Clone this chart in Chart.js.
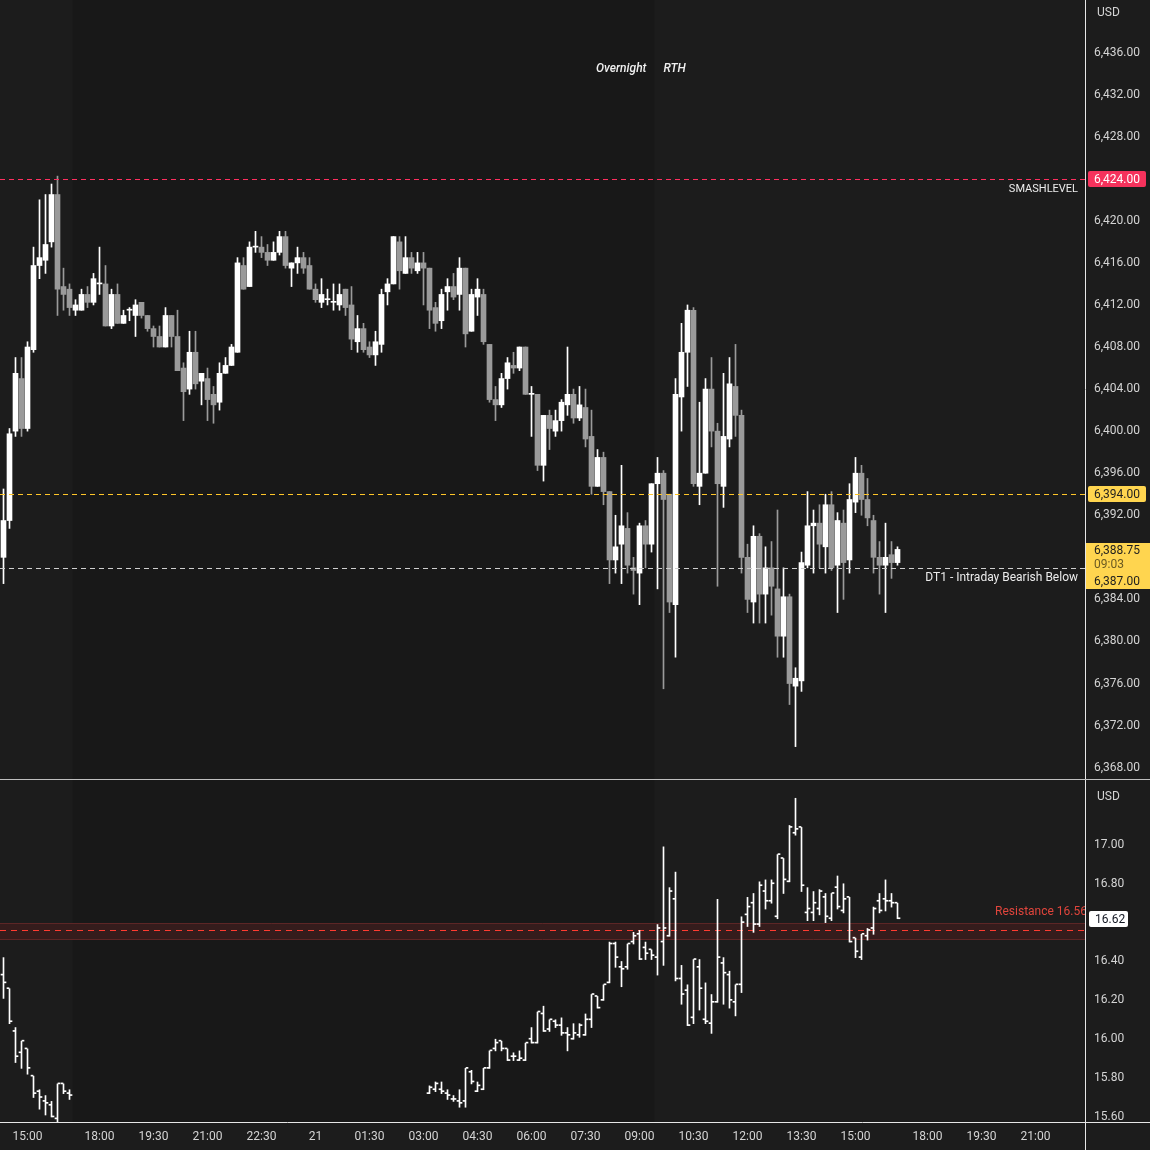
<!DOCTYPE html>
<html lang="en">
  <head>
    <meta charset="UTF-8" />
    <title>ES 10m / VIX</title>
    <style>
      html, body { margin: 0; padding: 0; background: #1c1c1c; }
      #wrap { position: relative; width: 1150px; height: 1150px; overflow: hidden; }
      #top { position: absolute; left: 0; top: 0; }
      #sep { position: absolute; left: 0; top: 779px; width: 1150px; height: 1px; background: #bfbfbf; }
      #bottom { position: absolute; left: 0; top: 780px; }
    </style>
    <script src="https://cdn.jsdelivr.net/npm/chart.js"></script>
  </head>
  <body>
    <div id="wrap">
      <canvas id="top" width="1150" height="779"></canvas>
      <div id="sep"></div>
      <canvas id="bottom" width="1150" height="370"></canvas>
    </div>
<script>
// ---- x axis (bar index, 10 minute bars) ----
const tickIdx = [4, 16, 25, 34, 43, 52, 61, 70, 79, 88, 97, 106, 115, 124, 133, 142, 154, 163, 172];
const tickText = ["15:00", "18:00", "19:30", "21:00", "22:30", "21", "01:30", "03:00", "04:30", "06:00",
                  "07:30", "09:00", "10:30", "12:00", "13:30", "15:00", "18:00", "19:30", "21:00"];
const overnight = [11.5, 108.5];   // session break (bar index)

// ---- ES candles ----
const esOpen = [
  6388.0, 6391.5, 6400.0, 6405.0, 6400.25, 6407.75, 6415.75, 6416.25, 6418.0, 6422.5,
  6413.75, 6413.5, 6411.5, 6411.5, 6413.0, 6412.25, 6414.0, 6414.0, 6410.0, 6413.0,
  6410.25, 6411.5, 6411.0, 6412.25, 6411.0, 6409.75, 6409.0, 6408.0, 6411.0, 6409.0,
  6406.0, 6404.0, 6407.5, 6404.75, 6405.0, 6403.5, 6402.75, 6405.5, 6406.25, 6407.5,
  6415.75, 6413.75, 6417.5, 6417.5, 6417.0, 6416.25, 6417.0, 6418.5, 6415.5, 6416.0,
  6416.5, 6415.75, 6413.5, 6412.25, 6412.5, 6412.25, 6412.0, 6413.5, 6412.0, 6408.5,
  6409.75, 6408.0, 6407.25, 6408.25, 6413.25, 6414.0, 6418.0, 6415.0, 6416.5, 6415.25,
  6416.0, 6415.5, 6411.75, 6410.5, 6413.25, 6413.75, 6413.0, 6415.5, 6409.5, 6412.75,
  6413.0, 6408.25, 6403.0, 6402.5, 6405.0, 6406.25, 6406.0, 6408.0, 6403.5, 6403.5,
  6396.75, 6401.5, 6400.0, 6401.0, 6402.5, 6403.5, 6401.25, 6402.25, 6399.5, 6394.75,
  6397.5, 6394.25, 6387.75, 6389.25, 6390.75, 6387.0, 6386.5, 6391.0, 6389.25, 6395.0,
  6396.0, 6394.0, 6383.5, 6403.25, 6407.5, 6411.5, 6394.75, 6396.0, 6404.0, 6400.0,
  6394.75, 6399.25, 6404.25, 6401.5, 6388.0, 6383.75, 6390.0, 6384.5, 6387.0, 6385.0,
  6380.5, 6384.25, 6375.75, 6376.25, 6387.25, 6391.0, 6391.25, 6389.0, 6393.0, 6387.25,
  6391.25, 6387.75, 6393.25, 6396.0, 6393.5, 6391.5, 6388.0, 6387.25, 6388.25, 6387.5
];
const esHigh = [
  6394.5, 6400.25, 6407.0, 6407.0, 6408.5, 6417.5, 6422.0, 6422.5, 6423.5, 6424.25,
  6415.5, 6414.0, 6412.5, 6413.5, 6413.75, 6415.0, 6417.5, 6415.75, 6413.5, 6414.0,
  6411.5, 6411.75, 6412.5, 6412.25, 6411.0, 6410.0, 6410.0, 6411.75, 6411.0, 6411.5,
  6406.5, 6409.5, 6409.5, 6405.5, 6406.0, 6404.25, 6406.5, 6407.0, 6408.25, 6416.5,
  6416.5, 6418.0, 6419.0, 6418.5, 6417.75, 6418.0, 6419.0, 6419.0, 6416.0, 6417.5,
  6417.0, 6416.5, 6414.0, 6414.5, 6413.5, 6414.0, 6414.0, 6413.5, 6413.75, 6411.0,
  6410.25, 6408.5, 6409.5, 6413.5, 6414.5, 6418.5, 6418.5, 6418.5, 6417.0, 6417.0,
  6417.0, 6415.5, 6412.25, 6413.5, 6414.5, 6415.0, 6416.5, 6415.5, 6413.5, 6414.5,
  6413.5, 6408.25, 6404.25, 6405.5, 6407.0, 6407.5, 6408.0, 6408.0, 6404.25, 6403.5,
  6401.5, 6402.0, 6402.0, 6403.0, 6408.0, 6404.0, 6404.25, 6404.0, 6402.0, 6398.25,
  6398.0, 6394.25, 6392.0, 6396.75, 6392.25, 6388.0, 6391.25, 6391.5, 6395.0, 6397.5,
  6396.25, 6394.0, 6405.0, 6410.25, 6412.0, 6411.75, 6402.75, 6405.0, 6407.0, 6400.75,
  6405.5, 6407.0, 6408.25, 6402.0, 6389.25, 6391.0, 6390.25, 6389.0, 6389.5, 6392.5,
  6387.0, 6384.5, 6377.5, 6388.5, 6394.25, 6392.5, 6393.0, 6394.0, 6394.25, 6392.25,
  6392.5, 6395.0, 6397.5, 6396.75, 6395.5, 6392.0, 6389.5, 6391.25, 6389.5, 6389.0
];
const esLow = [
  6385.5, 6390.75, 6399.5, 6399.5, 6400.0, 6407.5, 6414.5, 6415.0, 6417.5, 6411.0,
  6411.5, 6411.0, 6411.0, 6411.5, 6411.75, 6412.0, 6413.0, 6410.0, 6409.75, 6410.25,
  6410.25, 6410.5, 6409.0, 6410.75, 6409.5, 6408.0, 6408.0, 6408.0, 6408.0, 6405.75,
  6401.0, 6403.5, 6404.0, 6402.5, 6401.0, 6400.75, 6402.0, 6405.5, 6406.25, 6407.5,
  6413.5, 6413.75, 6417.0, 6416.5, 6415.75, 6416.25, 6416.75, 6415.5, 6413.75, 6415.0,
  6415.0, 6413.5, 6412.25, 6411.75, 6412.0, 6411.5, 6411.5, 6411.0, 6407.75, 6407.5,
  6407.5, 6407.0, 6406.25, 6407.5, 6412.0, 6414.0, 6413.5, 6415.0, 6415.0, 6415.0,
  6412.0, 6409.75, 6409.5, 6409.75, 6411.5, 6412.5, 6411.5, 6408.0, 6409.5, 6411.0,
  6408.25, 6402.75, 6401.0, 6402.25, 6404.0, 6405.5, 6405.75, 6403.5, 6399.5, 6396.25,
  6395.25, 6398.25, 6399.5, 6400.0, 6401.5, 6400.75, 6401.0, 6398.5, 6394.0, 6394.75,
  6393.0, 6385.5, 6386.5, 6385.5, 6386.5, 6384.5, 6383.5, 6387.0, 6388.5, 6385.0,
  6375.5, 6382.75, 6378.5, 6400.0, 6404.25, 6394.75, 6393.0, 6396.0, 6398.5, 6385.25,
  6392.75, 6398.5, 6399.5, 6386.5, 6382.75, 6381.75, 6381.75, 6381.75, 6382.5, 6378.5,
  6378.5, 6374.0, 6370.0, 6375.25, 6387.0, 6386.5, 6387.0, 6386.5, 6386.75, 6382.75,
  6384.0, 6386.5, 6392.25, 6392.0, 6391.0, 6386.5, 6384.5, 6382.75, 6386.0, 6387.25
];
const esClose = [
  6391.5, 6399.75, 6405.5, 6400.25, 6408.0, 6415.75, 6416.5, 6417.75, 6422.5, 6413.5,
  6413.0, 6411.75, 6412.0, 6413.0, 6412.25, 6414.5, 6414.0, 6410.0, 6413.0, 6410.25,
  6411.0, 6411.5, 6412.0, 6411.0, 6409.75, 6409.0, 6408.0, 6411.0, 6409.0, 6405.75,
  6403.75, 6407.5, 6404.5, 6405.5, 6403.0, 6402.5, 6405.5, 6406.25, 6408.0, 6416.0,
  6413.5, 6417.5, 6417.5, 6417.0, 6416.25, 6417.0, 6418.5, 6415.75, 6416.0, 6416.5,
  6415.5, 6413.5, 6412.5, 6413.0, 6412.5, 6412.25, 6413.0, 6411.75, 6408.75, 6409.75,
  6407.75, 6407.25, 6408.5, 6413.0, 6414.0, 6418.5, 6415.25, 6416.5, 6415.5, 6416.0,
  6415.5, 6411.5, 6410.25, 6413.0, 6413.75, 6412.75, 6415.5, 6409.25, 6413.0, 6413.5,
  6408.5, 6403.0, 6402.5, 6405.0, 6406.5, 6406.0, 6408.0, 6403.5, 6403.5, 6396.75,
  6401.5, 6400.25, 6401.0, 6402.75, 6403.5, 6401.25, 6402.5, 6399.25, 6394.75, 6397.5,
  6394.25, 6387.75, 6389.0, 6391.0, 6387.25, 6386.75, 6391.0, 6389.25, 6395.0, 6396.0,
  6393.5, 6383.75, 6403.5, 6407.5, 6411.5, 6395.0, 6396.0, 6404.0, 6400.0, 6395.0,
  6399.5, 6404.5, 6401.5, 6388.0, 6384.0, 6390.0, 6384.5, 6387.0, 6385.25, 6380.5,
  6384.25, 6376.0, 6376.5, 6387.5, 6391.0, 6391.25, 6389.25, 6393.0, 6387.0, 6391.5,
  6387.5, 6393.5, 6396.0, 6393.5, 6391.75, 6388.0, 6387.25, 6388.0, 6387.5, 6388.75
];
const esTicks = [6436, 6432, 6428, 6424, 6420, 6416, 6412, 6408, 6404, 6400,
                 6396, 6392, 6388, 6384, 6380, 6376, 6372, 6368];
const smashLevel = 6424;
const yellowLevel = 6394;
const dt1Level = 6387;
const esLast = 6388.75;
const countdown = "09:03";

// ---- VIX bars (two sessions) ----
const vixSessions = [[0, 11], [71, 149]];
const vixOpen = [
  16.33, 16.26, 16.04, 15.93, 15.95, 15.81, 15.73, 15.68, 15.66, 15.59, 15.77, 15.72,
  15.72, 15.74, 15.74, 15.72, 15.69, 15.68, 15.68, 15.83, 15.73, 15.74,
  15.85, 15.95, 15.99, 15.95, 15.91, 15.89, 15.89, 16.00, 15.98, 16.13,
  16.05, 16.09, 16.07, 16.03, 16.00, 16.02, 16.02, 16.10, 16.22, 16.20,
  16.29, 16.49, 16.37, 16.37, 16.50, 16.54, 16.47, 16.46, 16.42, 16.50,
  16.53, 16.72, 16.31, 16.25, 16.11, 16.37, 16.10, 16.08, 16.19, 16.39,
  16.33, 16.19, 16.28, 16.64, 16.70, 16.59, 16.76, 16.71, 16.63, 16.93,
  16.81, 17.06, 17.09, 16.65, 16.65, 16.67, 16.73, 16.62, 16.78, 16.66,
  16.73, 16.52, 16.42, 16.53, 16.57, 16.71, 16.72, 16.71, 16.70
];
const vixHigh = [
  16.42, 16.26, 16.06, 15.99, 15.95, 15.81, 15.74, 15.71, 15.68, 15.77, 15.77, 15.74,
  15.76, 15.78, 15.78, 15.74, 15.71, 15.74, 15.85, 15.84, 15.78, 15.85,
  15.94, 16.00, 15.99, 15.95, 15.93, 15.94, 15.98, 16.06, 16.14, 16.17,
  16.10, 16.10, 16.11, 16.06, 16.08, 16.08, 16.13, 16.23, 16.22, 16.28,
  16.50, 16.50, 16.40, 16.49, 16.55, 16.56, 16.50, 16.46, 16.59, 16.99,
  16.78, 16.86, 16.38, 16.28, 16.41, 16.41, 16.29, 16.23, 16.72, 16.42,
  16.35, 16.28, 16.63, 16.73, 16.75, 16.81, 16.82, 16.82, 16.95, 16.93,
  17.10, 17.24, 17.09, 16.78, 16.76, 16.77, 16.75, 16.75, 16.84, 16.80,
  16.73, 16.52, 16.54, 16.57, 16.68, 16.75, 16.82, 16.75, 16.70
];
const vixLow = [
  16.21, 16.08, 15.88, 15.85, 15.82, 15.70, 15.64, 15.61, 15.60, 15.57, 15.72, 15.69,
  15.72, 15.73, 15.72, 15.69, 15.68, 15.65, 15.65, 15.77, 15.73, 15.74,
  15.85, 15.94, 15.94, 15.89, 15.89, 15.89, 15.89, 15.98, 15.98, 16.04,
  16.04, 16.06, 16.02, 15.94, 16.00, 16.01, 16.02, 16.06, 16.16, 16.20,
  16.29, 16.37, 16.27, 16.36, 16.49, 16.41, 16.41, 16.41, 16.33, 16.38,
  16.53, 16.30, 16.18, 16.07, 16.08, 16.15, 16.08, 16.03, 16.19, 16.18,
  16.16, 16.12, 16.24, 16.58, 16.55, 16.58, 16.67, 16.70, 16.62, 16.75,
  16.81, 17.05, 16.76, 16.61, 16.61, 16.64, 16.60, 16.61, 16.67, 16.65,
  16.50, 16.42, 16.41, 16.51, 16.54, 16.65, 16.66, 16.68, 16.62
];
const vixClose = [
  16.29, 16.09, 15.91, 15.99, 15.85, 15.72, 15.70, 15.67, 15.60, 15.77, 15.73, 15.71,
  15.75, 15.77, 15.73, 15.71, 15.69, 15.67, 15.85, 15.78, 15.76, 15.85,
  15.94, 15.98, 15.95, 15.89, 15.91, 15.90, 15.98, 15.98, 16.14, 16.04,
  16.10, 16.07, 16.03, 16.02, 16.03, 16.07, 16.10, 16.23, 16.16, 16.28,
  16.49, 16.42, 16.36, 16.49, 16.53, 16.41, 16.44, 16.43, 16.57, 16.57,
  16.76, 16.31, 16.23, 16.07, 16.41, 16.26, 16.09, 16.19, 16.42, 16.34,
  16.20, 16.28, 16.60, 16.68, 16.59, 16.79, 16.71, 16.80, 16.95, 16.82,
  17.09, 17.08, 16.79, 16.67, 16.70, 16.76, 16.63, 16.75, 16.68, 16.72,
  16.50, 16.45, 16.54, 16.56, 16.67, 16.66, 16.71, 16.70, 16.62
];
const vixTicks = [17.0, 16.8, 16.4, 16.2, 16.0, 15.8, 15.6];
const resistance = 16.56;
const resistanceZone = [16.515, 16.60];
const vixLast = 16.62;

// ---- layout constants ----
const xMin = -3.5 / 6;
const xMax = (1085 - 3.5) / 6;
const FONT = "Roboto, 'Liberation Sans', sans-serif";
const tickCol = "#d4d4d4";

Chart.defaults.font.family = FONT;
Chart.defaults.color = tickCol;

function fmtPrice(v) {
  return v.toLocaleString("en-US", { minimumFractionDigits: 2, maximumFractionDigits: 2 });
}

function fixYAxis(s) {
  s.width = 65;
  s.paddingTop = 0;
  s.paddingBottom = 0;
}

function paintBackground(chart) {
  const ctx = chart.ctx;
  const a = chart.chartArea;
  const x = chart.scales.x;
  ctx.save();
  ctx.fillStyle = "#1c1c1c";
  ctx.fillRect(0, 0, chart.width, chart.height);
  ctx.fillStyle = "#181818";
  const x0 = x.getPixelForValue(overnight[0]);
  const x1 = x.getPixelForValue(overnight[1]);
  ctx.fillRect(x0, a.top, x1 - x0, a.bottom - a.top);
  ctx.restore();
}

function hLine(ctx, a, y, color, dash) {
  ctx.save();
  ctx.strokeStyle = color;
  ctx.lineWidth = 1;
  ctx.setLineDash(dash);
  y = Math.round(y) + 0.5;
  ctx.beginPath();
  ctx.moveTo(a.left, y);
  ctx.lineTo(a.right, y);
  ctx.stroke();
  ctx.restore();
}

function tag(ctx, x, y, w, bg, fg, text) {
  ctx.save();
  ctx.fillStyle = bg;
  ctx.beginPath();
  if (ctx.roundRect) ctx.roundRect(x, Math.round(y) - 8, w, 16, 2);
  else ctx.rect(x, Math.round(y) - 8, w, 16);
  ctx.fill();
  ctx.fillStyle = fg;
  ctx.font = "12px " + FONT;
  ctx.textAlign = "left";
  ctx.textBaseline = "middle";
  ctx.fillText(text, x + 6, Math.round(y) + 1);
  ctx.restore();
}

function text(ctx, str, x, y, color, align, font) {
  ctx.save();
  ctx.fillStyle = color;
  ctx.font = font || "12px " + FONT;
  ctx.textAlign = align;
  ctx.textBaseline = "middle";
  ctx.fillText(str, x, y);
  ctx.restore();
}

function axisFrame(chart, usdY) {
  const ctx = chart.ctx;
  const a = chart.chartArea;
  ctx.save();
  ctx.strokeStyle = "#e6e6e6";
  ctx.lineWidth = 1;
  ctx.beginPath();
  ctx.moveTo(Math.round(a.right) + 0.5, 0);
  ctx.lineTo(Math.round(a.right) + 0.5, chart.height);
  ctx.stroke();
  ctx.restore();
  text(ctx, "USD", a.right + 12, usdY, tickCol, "left");
}

// ---------------- top: ES candles ----------------
const esIdx = esOpen.map(function (v, i) { return i; });
const esColor = esIdx.map(function (i) { return esClose[i] >= esOpen[i] ? "#ffffff" : "#9a9a9a"; });

const topDecor = {
  id: "topDecor",
  beforeDraw: paintBackground,
  afterDatasetsDraw(chart) {
    const ctx = chart.ctx;
    const a = chart.chartArea;
    const y = chart.scales.y;
    hLine(ctx, a, y.getPixelForValue(smashLevel), "#ff2f5f", [5, 4]);
    hLine(ctx, a, y.getPixelForValue(yellowLevel), "#ffc629", [5, 4]);
    hLine(ctx, a, y.getPixelForValue(dt1Level), "#cfcfcf", [5, 4]);
    text(ctx, "SMASHLEVEL", a.right - 7, y.getPixelForValue(smashLevel) + 10, "#ececec", "right", "11px " + FONT);
    text(ctx, "DT1 - Intraday Bearish Below", a.right - 7, y.getPixelForValue(dt1Level) + 10, "#ececec", "right", "12px " + FONT);
    const xb = chart.scales.x.getPixelForValue(overnight[1]);
    text(ctx, "Overnight", xb - 8, 69, "#f0f0f0", "right", "italic 500 12px " + FONT);
    text(ctx, "RTH", xb + 9, 69, "#f0f0f0", "left", "italic 500 12px " + FONT);
  },
  afterDraw(chart) {
    const ctx = chart.ctx;
    const a = chart.chartArea;
    const y = chart.scales.y;
    axisFrame(chart, 13);
    tag(ctx, a.right + 3, y.getPixelForValue(smashLevel), 58, "#f5325c", "#ffffff", fmtPrice(smashLevel));
    tag(ctx, a.right + 3, y.getPixelForValue(yellowLevel), 58, "#ffd54f", "#1e1e1e", fmtPrice(yellowLevel));
    // last price box
    const yl = Math.round(y.getPixelForValue(esLast));
    ctx.save();
    ctx.fillStyle = "#ffd54f";
    ctx.fillRect(a.right + 1, yl - 6, chart.width - a.right - 1, 46);
    ctx.restore();
    text(ctx, fmtPrice(esLast), a.right + 9, yl + 2, "#1e1e1e", "left");
    text(ctx, countdown, a.right + 9, yl + 16, "#6b5a22", "left");
    text(ctx, fmtPrice(dt1Level), a.right + 9, yl + 33, "#1e1e1e", "left");
  },
};

new Chart(document.getElementById("top"), {
  type: "bar",
  data: {
    datasets: [
      {
        label: "wick",
        data: esIdx.map(function (i) { return { x: i, y: [esLow[i], esHigh[i]] }; }),
        backgroundColor: esColor,
        barThickness: 1,
        grouped: false,
        order: 2,
      },
      {
        label: "body",
        data: esIdx.map(function (i) { return { x: i, y: [esOpen[i], esClose[i]] }; }),
        backgroundColor: esColor,
        barThickness: 5,
        minBarLength: 1,
        grouped: false,
        order: 1,
      },
    ],
  },
  options: {
    responsive: false,
    animation: false,
    devicePixelRatio: 1,
    events: [],
    layout: { padding: 0 },
    plugins: { legend: { display: false }, tooltip: { enabled: false } },
    scales: {
      x: { type: "linear", min: xMin, max: xMax, offset: false, display: false },
      y: {
        position: "right",
        min: 6366.92,
        max: 6441.0,
        grid: { display: false, drawTicks: false },
        border: { display: false },
        ticks: { color: tickCol, padding: 9, font: { size: 12 }, callback: function (v) { return fmtPrice(v); } },
        afterBuildTicks: function (s) { s.ticks = esTicks.map(function (v) { return { value: v }; }); },
        afterFit: fixYAxis,
      },
    },
  },
  plugins: [topDecor],
});

// ---------------- bottom: VIX bars ----------------
const vixIdx = [];
vixSessions.forEach(function (s) {
  for (let i = s[0]; i <= s[1]; i++) vixIdx.push(i);
});

const bottomDecor = {
  id: "bottomDecor",
  beforeDraw: paintBackground,
  beforeDatasetsDraw(chart) {
    const ctx = chart.ctx;
    const a = chart.chartArea;
    const y = chart.scales.y;
    const y0 = Math.round(y.getPixelForValue(resistanceZone[1]));
    const y1 = Math.round(y.getPixelForValue(resistanceZone[0]));
    ctx.save();
    ctx.fillStyle = "#351c1c";
    ctx.fillRect(a.left, y0, a.right - a.left, y1 - y0);
    ctx.restore();
    hLine(ctx, a, y0, "#5c2626", []);
    hLine(ctx, a, y1, "#5c2626", []);
    hLine(ctx, a, y.getPixelForValue(resistance), "#ff3b30", [6, 5]);
  },
  afterDraw(chart) {
    const ctx = chart.ctx;
    const a = chart.chartArea;
    const y = chart.scales.y;
    ctx.save();
    ctx.beginPath();
    ctx.rect(a.left, a.top, a.right - a.left, a.bottom - a.top);
    ctx.clip();
    text(ctx, "Resistance " + resistance.toFixed(2), a.right + 2, y.getPixelForValue(resistance) - 18, "#e0453c", "right");
    ctx.restore();
    // bottom frame line
    ctx.save();
    ctx.strokeStyle = "#e6e6e6";
    ctx.lineWidth = 1;
    ctx.beginPath();
    ctx.moveTo(0, Math.round(a.bottom) + 0.5);
    ctx.lineTo(chart.width, Math.round(a.bottom) + 0.5);
    ctx.stroke();
    ctx.restore();
    axisFrame(chart, 17);
    tag(ctx, a.right + 4, y.getPixelForValue(vixLast), 39, "#ffffff", "#131722", vixLast.toFixed(2));
  },
};

// open / close ticks are 2px bars either side of the high-low bar
function vixTick(values, shift) {
  return {
    label: shift < 0 ? "open" : "close",
    data: vixIdx.map(function (i, k) { return { x: i + shift, y: [values[k], values[k]] }; }),
    backgroundColor: "#ffffff",
    barThickness: 2,
    minBarLength: 1,
    grouped: false,
  };
}

new Chart(document.getElementById("bottom"), {
  type: "bar",
  data: {
    datasets: [
      {
        label: "range",
        data: vixIdx.map(function (i, k) { return { x: i, y: [vixLow[k], vixHigh[k]] }; }),
        backgroundColor: "#ffffff",
        barThickness: 1,
        minBarLength: 1,
        grouped: false,
      },
      vixTick(vixOpen, -0.25),
      vixTick(vixClose, 0.25),
    ],
  },
  options: {
    responsive: false,
    animation: false,
    devicePixelRatio: 1,
    events: [],
    layout: { padding: 0 },
    plugins: { legend: { display: false }, tooltip: { enabled: false } },
    scales: {
      x: {
        type: "linear",
        position: "bottom",
        min: xMin,
        max: xMax,
        offset: false,
        grid: { display: false, drawTicks: false },
        border: { display: false },
        ticks: {
          color: tickCol,
          padding: 8,
          autoSkip: false,
          maxRotation: 0,
          font: { size: 12 },
          callback: function (v, k) { return tickText[k]; },
        },
        afterBuildTicks: function (s) { s.ticks = tickIdx.map(function (v) { return { value: v }; }); },
        afterFit: function (s) { s.height = 28; s.paddingLeft = 0; s.paddingRight = 0; },
      },
      y: {
        position: "right",
        min: 15.574,
        max: 17.334,
        grid: { display: false, drawTicks: false },
        border: { display: false },
        ticks: { color: tickCol, padding: 9, font: { size: 12 }, callback: function (v) { return v.toFixed(2); } },
        afterBuildTicks: function (s) { s.ticks = vixTicks.map(function (v) { return { value: v }; }); },
        afterFit: fixYAxis,
      },
    },
  },
  plugins: [bottomDecor],
});
</script>
  </body>
</html>
